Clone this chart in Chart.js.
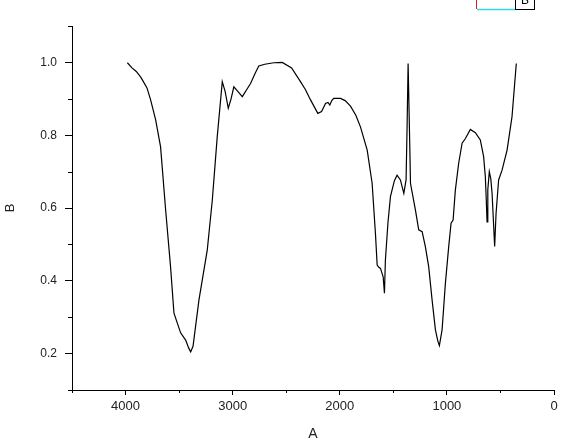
<!DOCTYPE html>
<html>
<head>
<meta charset="utf-8">
<script src="https://cdn.jsdelivr.net/npm/chart.js@4/dist/chart.umd.min.js"></script>
<style>
  html, body { margin: 0; padding: 0; background: #fff; }
  canvas { display: block; }
</style>
</head>
<body>
<canvas id="espectro" width="588" height="443"></canvas>
<script>
// wavenumber (A) and transmittance (B)
const numeroOnda = [3983, 3940, 3900, 3860, 3843, 3800, 3766, 3719, 3673, 3626, 3580, 3548, 3486, 3439, 3410, 3392, 3370, 3315, 3237, 3190, 3144, 3097, 3070, 3041, 3015, 2989, 2950, 2910, 2870, 2833, 2790, 2756, 2700, 2616, 2537, 2450, 2367, 2320, 2273, 2205, 2170, 2133, 2110, 2093, 2075, 2056, 1993, 1950, 1900, 1850, 1807, 1744, 1698, 1667, 1651, 1635, 1620, 1595, 1583, 1574, 1550, 1527, 1490, 1465, 1434, 1402, 1381, 1371, 1362, 1355, 1345, 1340, 1294, 1263, 1231, 1201, 1170, 1138, 1107, 1085, 1070, 1045, 1014, 983, 961, 942, 921, 890, 858, 827, 781, 734, 688, 657, 641, 632, 625, 618, 604, 590, 578, 554, 541, 517, 485, 438, 392, 352];
const transmitancia = [0.999, 0.985, 0.975, 0.96, 0.952, 0.93, 0.897, 0.842, 0.768, 0.595, 0.439, 0.311, 0.257, 0.237, 0.215, 0.205, 0.22, 0.347, 0.485, 0.622, 0.796, 0.947, 0.92, 0.874, 0.9, 0.933, 0.92, 0.906, 0.925, 0.942, 0.97, 0.99, 0.995, 0.999, 1.0, 0.985, 0.947, 0.925, 0.897, 0.86, 0.865, 0.887, 0.89, 0.883, 0.895, 0.901, 0.901, 0.895, 0.88, 0.855, 0.823, 0.759, 0.668, 0.53, 0.443, 0.437, 0.434, 0.411, 0.366, 0.457, 0.56, 0.631, 0.675, 0.69, 0.677, 0.64, 0.677, 0.833, 0.997, 0.997, 0.75, 0.668, 0.595, 0.54, 0.535, 0.494, 0.439, 0.347, 0.265, 0.235, 0.222, 0.265, 0.393, 0.494, 0.558, 0.567, 0.649, 0.723, 0.778, 0.791, 0.816, 0.807, 0.787, 0.741, 0.686, 0.62, 0.562, 0.65, 0.7, 0.68, 0.64, 0.494, 0.585, 0.677, 0.704, 0.759, 0.851, 0.997];

const ticksX = [4000, 3000, 2000, 1000, 0];
const ticksXMenores = [4500, 3500, 2500, 1500, 500];
const ticksY = [0.2, 0.4, 0.6, 0.8, 1.0];
const ticksYMenores = [0.1, 0.3, 0.5, 0.7, 0.9, 1.1];

const puntos = numeroOnda.map((x, i) => ({ x: x, y: transmitancia[i] }));

const fuente = "'Liberation Sans', Arial, sans-serif";

// minor ticks + the clipped legend box at the top
const extras = {
    id: 'extras',
    afterDraw(chart) {
        const ctx = chart.ctx;
        const sx = chart.scales.x, sy = chart.scales.y;
        ctx.save();
        ctx.strokeStyle = '#000';
        ctx.lineWidth = 1;
        ctx.beginPath();
        ticksXMenores.forEach(v => {
            const px = Math.round(sx.getPixelForValue(v)) + 0.5;
            ctx.moveTo(px, sy.bottom);
            ctx.lineTo(px, sy.bottom + 3);
        });
        ticksYMenores.forEach(v => {
            const py = Math.round(sy.getPixelForValue(v)) + 0.5;
            ctx.moveTo(sx.left, py);
            ctx.lineTo(sx.left - 4, py);
        });
        ctx.stroke();

        // legend (cut off by the top edge)
        ctx.strokeStyle = '#d02020';
        ctx.beginPath();
        ctx.moveTo(476.5, 0); ctx.lineTo(476.5, 9);
        ctx.stroke();
        ctx.strokeStyle = '#30d8e0';
        ctx.lineWidth = 1.5;
        ctx.beginPath();
        ctx.moveTo(477, 9.5); ctx.lineTo(515, 9.5);
        ctx.stroke();
        ctx.lineWidth = 1;
        ctx.strokeStyle = '#000';
        ctx.strokeRect(515.5, -6.5, 19, 16);
        ctx.fillStyle = '#000';
        ctx.font = '12px ' + fuente;
        ctx.textAlign = 'center';
        ctx.textBaseline = 'middle';
        ctx.fillText('B', 525, 1);
        ctx.restore();
    }
};

new Chart(document.getElementById('espectro'), {
    type: 'line',
    data: {
        datasets: [{
            label: 'B',
            data: puntos,
            borderColor: '#000',
            borderWidth: 1.2,
            pointRadius: 0,
            tension: 0,
            fill: false
        }]
    },
    options: {
        responsive: false,
        animation: false,
        layout: { padding: { top: 26, right: 34, left: 3, bottom: 0 } },
        plugins: {
            legend: { display: false },
            tooltip: { enabled: false }
        },
        scales: {
            x: {
                type: 'linear',
                reverse: true,
                min: 0,
                max: 4500,
                afterBuildTicks: s => { s.ticks = ticksX.map(v => ({ value: v })); },
                afterFit: s => { s.height = 53; },
                ticks: {
                    color: '#222',
                    font: { family: fuente, size: 13 },
                    padding: 4,
                    maxRotation: 0,
                    callback: v => String(v)
                },
                grid: { drawOnChartArea: false, tickLength: 5, color: '#000' },
                border: { color: '#000', width: 1 },
                title: {
                    display: true,
                    text: 'A',
                    color: '#222',
                    font: { family: fuente, size: 14 },
                    padding: { top: 0, bottom: 0 }
                }
            },
            y: {
                min: 0.1,
                max: 1.1,
                afterBuildTicks: s => { s.ticks = ticksY.map(v => ({ value: v })); },
                afterFit: s => { s.width = 69; },
                ticks: {
                    color: '#222',
                    font: { family: fuente, size: 12 },
                    padding: 8,
                    callback: v => v.toFixed(1)
                },
                grid: { drawOnChartArea: false, tickLength: 7, color: '#000' },
                border: { color: '#000', width: 1 },
                title: {
                    display: true,
                    text: 'B',
                    color: '#222',
                    font: { family: fuente, size: 13 },
                    padding: { top: 0, bottom: 0 }
                }
            }
        }
    },
    plugins: [extras]
});
</script>
</body>
</html>
